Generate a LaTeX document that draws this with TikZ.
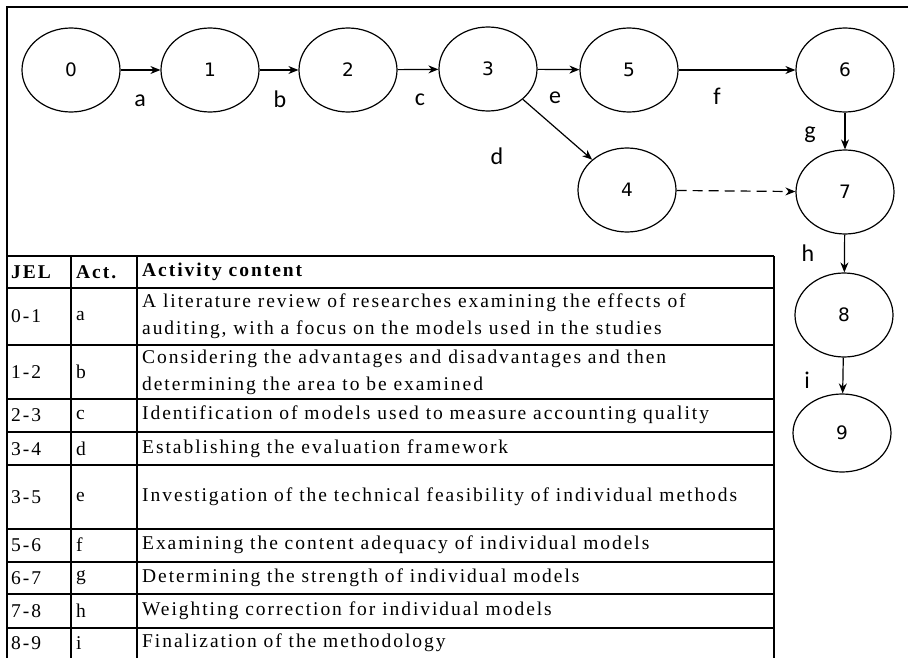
\documentclass[tikz,border=0pt]{standalone}
\usepackage{fontspec}
\setmainfont{Liberation Serif}[LetterSpace=10]
\newfontfamily\dejavu{DejaVu Sans}
\newfontfamily\carlito{Carlito}
\usetikzlibrary{shapes.geometric,arrows.meta,positioning}

\begin{document}
\begin{tikzpicture}[x=1pt,y=-1pt,
		event/.style={draw,ellipse,line width=1.2pt,minimum width=98pt,minimum height=84pt,inner sep=0pt,font=\dejavu\fontsize{18.5}{20}\selectfont},
		act/.style={-{Stealth[length=10pt,width=8pt]},line width=1.2pt},
		lbl/.style={inner sep=0pt,font=\carlito\fontsize{24}{26}\selectfont},
		cell/.style={anchor=west,inner sep=0pt,align=left,font=\fontsize{19.5}{27}\selectfont},
		head/.style={cell,font=\bfseries\fontsize{19.5}{27}\selectfont},
		rule/.style={line width=1.8pt}]
		\useasboundingbox (0,0) rectangle (908,658);
		% frame
		\draw[rule] (7,658) -- (7,7) -- (908,7);
		% network
		\node[event] (n0) at (71,70) {0};
		\node[event] (n1) at (210,70) {1};
		\node[event] (n2) at (348,70) {2};
		\node[event] (n3) at (488,69) {3};
		\node[event] (n5) at (629,70) {5};
		\node[event] (n6) at (845,70) {6};
		\node[event] (n4) at (627,190) {4};
		\node[event] (n7) at (845,192) {7};
		\node[event] (n8) at (844,315) {8};
		\node[event,minimum height=78pt] (n9) at (842,433) {9};
		\draw[act] (n0) -- (n1);
		\draw[act] (n1) -- (n2);
		\draw[act] (n2) -- (n3);
		\draw[act] (n3) -- (n5);
		\draw[act] (n5) -- (n6);
		\draw[act] (n3) -- (n4);
		\draw[act,dash pattern=on 10pt off 6pt] (n4) -- (n7);
		\draw[act] (n6) -- (n7);
		\draw[act] (n7) -- (n8);
		\draw[act] (n8) -- (n9);
		\node[lbl] (la) at (140,101) {a};
		\node[lbl] (lb) at (280,99) {b};
		\node[lbl] (lc) at (420,100) {c};
		\node[lbl] (ld) at (497,156) {d};
		\node[lbl] (le) at (555,98) {e};
		\node[lbl] (lf) at (717,96) {f};
		\node[lbl] (lg) at (810,135) {g};
		\node[lbl] (lh) at (808,253) {h};
		\node[lbl] (li) at (807,380) {i};
		% table
		\draw[rule] (7,256) -- (774,256);
		\draw[rule] (7,288) -- (774,288);
		\draw[rule] (7,345) -- (774,345);
		\draw[rule] (7,399) -- (774,399);
		\draw[rule] (7,432) -- (774,432);
		\draw[rule] (7,465) -- (774,465);
		\draw[rule] (7,529) -- (774,529);
		\draw[rule] (7,562) -- (774,562);
		\draw[rule] (7,594) -- (774,594);
		\draw[rule] (7,628) -- (774,628);
		\draw[rule] (71,256) -- (71,658);
		\draw[rule] (137,256) -- (137,658);
		\draw[rule] (774,256) -- (774,658);
		\node[head] (hjel) at (11,272) {JEL};
		\node[head] (hact) at (76,272) {Act.};
		\node[head] (hcon) at (142,272) {Activity content};
		\node[cell] (j1) at (11,316) {0-1};
		\node[cell] (a1) at (76,316) {a};
		\node[cell] (c1) at (142,316) {A literature review of researches examining the effects of\\auditing, with a focus on the models used in the studies};
		\node[cell] (j2) at (11,372) {1-2};
		\node[cell] (a2) at (76,372) {b};
		\node[cell] (c2) at (142,372) {Considering the advantages and disadvantages and then\\determining the area to be examined};
		\node[cell] (j3) at (11,415) {2-3};
		\node[cell] (a3) at (76,415) {c};
		\node[cell] (c3) at (142,415) {Identification of models used to measure accounting quality};
		\node[cell] (j4) at (11,449) {3-4};
		\node[cell] (a4) at (76,449) {d};
		\node[cell] (c4) at (142,449) {Establishing the evaluation framework};
		\node[cell] (j5) at (11,497) {3-5};
		\node[cell] (a5) at (76,497) {e};
		\node[cell] (c5) at (142,497) {Investigation of the technical feasibility of individual methods};
		\node[cell] (j6) at (11,545) {5-6};
		\node[cell] (a6) at (76,545) {f};
		\node[cell] (c6) at (142,545) {Examining the content adequacy of individual models};
		\node[cell] (j7) at (11,578) {6-7};
		\node[cell] (a7) at (76,578) {g};
		\node[cell] (c7) at (142,578) {Determining the strength of individual models};
		\node[cell] (j8) at (11,611) {7-8};
		\node[cell] (a8) at (76,611) {h};
		\node[cell] (c8) at (142,611) {Weighting correction for individual models};
		\node[cell] (j9) at (11,643) {8-9};
		\node[cell] (a9) at (76,643) {i};
		\node[cell] (c9) at (142,643) {Finalization of the methodology};
	\end{tikzpicture}
\end{document}
